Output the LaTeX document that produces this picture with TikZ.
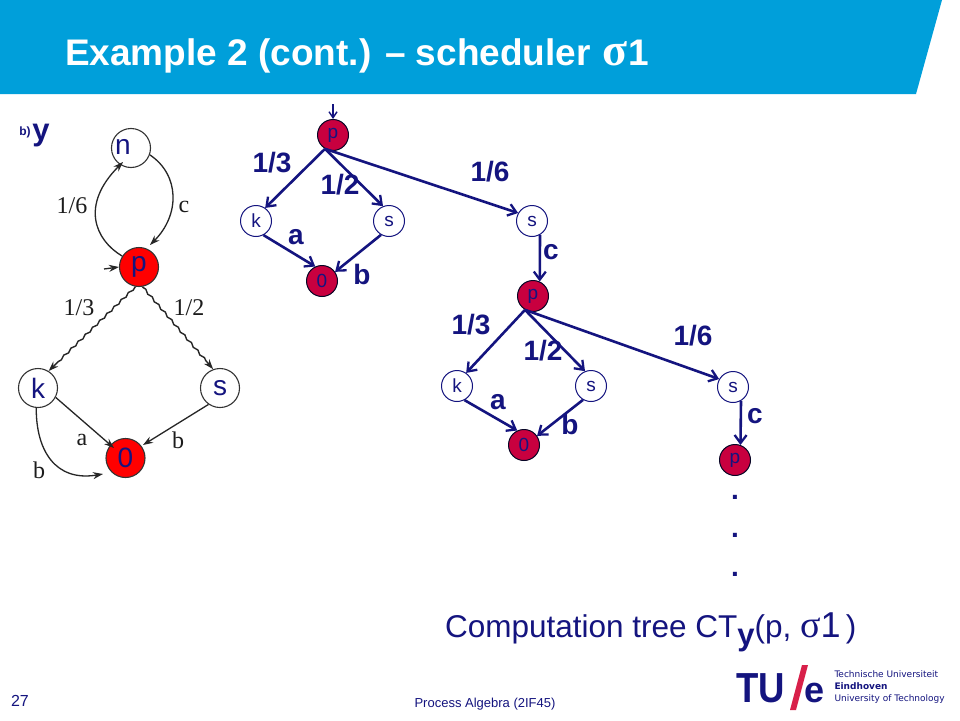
\documentclass[tikz,border=0pt]{standalone}
\usepackage{fontspec}
\setmainfont{Liberation Sans}
\newfontfamily\serifgr{Liberation Serif}
\newfontfamily\logofont{DejaVu Sans}
\usetikzlibrary{arrows.meta,decorations.pathmorphing}
\definecolor{navy}{HTML}{14147F}
\definecolor{headblue}{HTML}{009FDA}
\definecolor{crim}{HTML}{C8003F}
\definecolor{tuered}{HTML}{D8204A}
\definecolor{lblgrey}{HTML}{1C1C1C}
\newcommand{\fs}[1]{\fontsize{#1}{#1}\selectfont}
\tikzset{
  x=1pt,y=-1pt,
  plain/.style={inner sep=0pt,outer sep=0pt,text=navy},
  lstate/.style={circle,draw=black!80,line width=1.1pt,minimum size=39pt,inner sep=0pt,text=navy,font=\fs{28}},
  lred/.style={lstate,fill=red},
  tstate/.style={circle,draw=navy,line width=1pt,minimum size=31pt,inner sep=0pt,text=navy,font=\fs{19}},
  tred/.style={tstate,fill=crim,draw=black!70!navy},
  tedge/.style={draw=navy,line width=2.6pt,-{Straight Barb[length=8pt,width=12pt,line width=2.3pt]}},
  ledge/.style={draw=black!85,line width=1.3pt,-{Stealth[length=10pt,width=7pt]}},
  wavy/.style={ledge,line width=1.4pt,decorate,decoration={snake,amplitude=0.9pt,segment length=10pt,post length=10pt,pre length=1pt}},
  tlab/.style={plain,font=\bfseries\fs{28}},
  llab/.style={inner sep=0pt,text=lblgrey,font=\serifgr\fs{24}},
}
\begin{document}
\begin{tikzpicture}
\useasboundingbox (0,0) rectangle (960,720);
\fill[white] (0,0) rectangle (960,720);
\fill[headblue] (0,0) -- (942,0) -- (916,94) -- (0,94) -- cycle;
\node[plain,anchor=base west,text=white,font=\bfseries\fs{37}] (title) at (65,65) {Example 2 (cont.) – scheduler {\kern2pt\serifgr\fs{46}σ}1};

% left graph
\node[plain,font=\bfseries\fs{12}] (bmark) at (25,132) {b)};
\node[plain,font=\bfseries\fs{31}] (ymark) at (41,136) {y};
\node[lstate] (ln) at (131,148) {};
\node[plain,font=\fs{28}] (lnt) at (123,147) {n};
\node[lred] (lp) at (139,267) {p};
\node[lstate] (lk) at (38,388) {k};
\node[lstate] (ls) at (220,388) {s};
\node[lred] (l0) at (125.5,458) {0};
\coordinate (lin) at (104,269);
\coordinate (ntip) at (123,162);
\coordinate (ztipa) at (114,448);
\coordinate (ztipb) at (143,445);
\draw[ledge] (lin) -- (lp.west);
\draw[ledge] (lp.147) .. controls (95,240) and (80,205) .. (ntip);
\draw[ledge] (ln.-20) .. controls (180,175) and (180,215) .. (150,245);
\draw[wavy] (lp.-100) -- (lk.58);
\draw[wavy] (lp.-80) -- (ls.110);
\draw[ledge] (lk.-28) -- (ztipa);
\draw[ledge] (ls.-125) -- (ztipb);
\draw[ledge] (lk.-95) .. controls (36,450) and (55,482) .. (103,474);
\node[llab] (l16) at (72,206) {1/6};
\node[llab] (lc) at (184,207) {c};
\node[llab] (l13) at (79,308) {1/3};
\node[llab] (l12) at (189,308) {1/2};
\node[llab] (la) at (82,440) {a};
\node[llab] (lb1) at (178,440) {b};
\node[llab] (lb2) at (39,470) {b};

% tree
\coordinate (tin) at (333,104);
\node[tred] (p1) at (333,135) {p};
\node[tstate] (k1) at (256,221) {k};
\node[tstate] (s1) at (389,221) {s};
\node[tstate] (s2) at (532,221) {s};
\node[tred] (z1) at (322,281) {0};
\node[tred] (p2) at (533,296) {p};
\node[tstate] (k2) at (457,386) {k};
\node[tstate] (s3) at (591,386) {s};
\node[tstate] (s4) at (733,387) {s};
\node[tred] (z2) at (524,445) {0};
\node[tred] (p3) at (735,460) {p};
\draw[tedge,line width=1.6pt,-{Straight Barb[length=6pt,width=8pt,line width=1.4pt]}] (tin) -- (p1.north);
\draw[tedge] (p1.240) -- (k1.55);
\draw[tedge] (p1.240) -- (s1.112);
\draw[tedge] (p1.240) -- (s2.150);
\draw[tedge] (k1.-62) -- (z1.115);
\draw[tedge] (s1.-120) -- (z1.35);
\draw[tedge] (s2.-60) -- (p2.65);
\draw[tedge] (p2.240) -- (k2.55);
\draw[tedge] (p2.240) -- (s3.112);
\draw[tedge] (p2.240) -- (s4.150);
\draw[tedge] (k2.-62) -- (z2.115);
\draw[tedge] (s3.-120) -- (z2.35);
\draw[tedge] (s4.-60) -- (p3.70);

\node[tlab] (t13a) at (272,163) {1/3};
\node[tlab] (t12a) at (340,185) {1/2};
\node[tlab] (t16a) at (490,172) {1/6};
\node[tlab] (taa) at (296,237) {a};
\node[tlab] (tba) at (362,274) {b};
\node[tlab] (tca) at (551,252) {c};
\node[tlab] (t13b) at (471,325) {1/3};
\node[tlab] (t12b) at (543,351) {1/2};
\node[tlab] (t16b) at (693,336) {1/6};
\node[tlab] (tab) at (498,402) {a};
\node[tlab] (tbb) at (570,424) {b};
\node[tlab] (tcb) at (755,416) {c};
\node[tlab] (d1) at (735,497) {.};
\node[tlab] (d2) at (735,535) {.};
\node[tlab] (d3) at (735,574) {.};

\node[plain,anchor=base west,font=\fs{31.5}] (cap) at (445,637) {Computation tree CT\raisebox{-8pt}{\bfseries\fs{31}y}(p, {\serifgr\fs{38}σ}{\fs{36}1}\,)};

% footer
\node[plain,font=\fs{16}] (pg) at (20,701) {27};
\node[plain,font=\fs{13}] (foot) at (485,704) {Process Algebra (2IF45)};
\node[plain,anchor=base west,font=\bfseries\fs{42},xscale=0.87] (tu) at (736,702) {TU};
\fill[tuered] (802,665) -- (808,665) -- (796,710) -- (790,710) -- cycle;
\node[plain,anchor=base west,font=\bfseries\fs{36}] (e) at (804,702) {e};
\node[plain,anchor=north west,align=left,font=\logofont\fontsize{9}{12}\selectfont] (uni) at (834.5,671) {Technische Universiteit\\{\bfseries Eindhoven}\\University of Technology};
\end{tikzpicture}
\end{document}
